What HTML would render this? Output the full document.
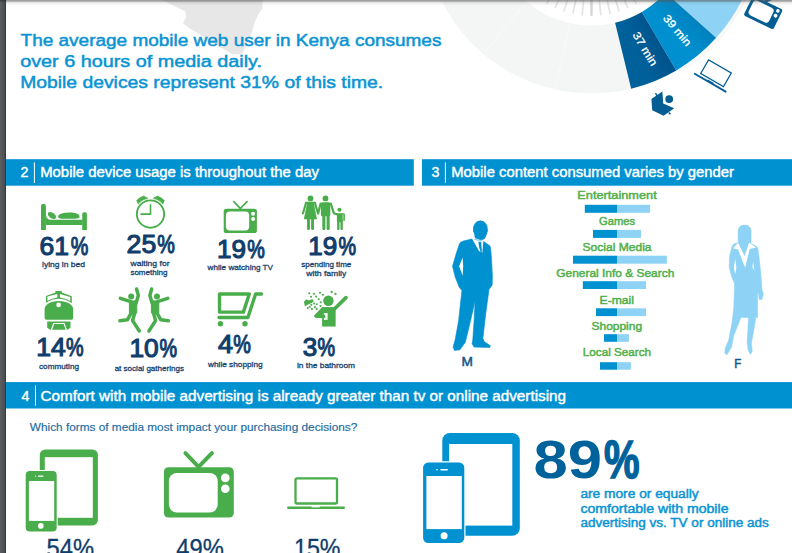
<!DOCTYPE html>
<html><head><meta charset="utf-8"><title>Kenya mobile media</title>
<style>
html,body{margin:0;padding:0;background:#fff;}
body{width:792px;height:553px;overflow:hidden;position:relative;font-family:"Liberation Sans",sans-serif;}
svg{position:absolute;left:0;top:0;display:block}
text{font-family:"Liberation Sans",sans-serif;}
.h{fill:#0a94d3;font-size:17.2px;stroke:#0a94d3;stroke-width:.5px}
.b{fill:#fff;font-size:14px;stroke:#fff;stroke-width:.4px}
.n{fill:#103d6b;font-size:25.4px;stroke:#103d6b;stroke-width:1.1px}
.l{fill:#15426f;font-size:8px;stroke:#15426f;stroke-width:.3px}
.g{fill:#53b04c;font-size:11.4px;stroke:#53b04c;stroke-width:.5px}
.q{fill:#1d6a9e;font-size:10.5px;stroke:#1d6a9e;stroke-width:.15px}
.r{fill:#103d6b;font-size:25.5px;stroke:#103d6b;stroke-width:.3px}
.c{fill:#0a94d3;font-size:12px;stroke:#0a94d3;stroke-width:.45px}
</style></head><body>
<svg width="792" height="553" viewBox="0 0 792 553">
<defs>
<linearGradient id="lb" x1="0" x2="1" y1="0" y2="0"><stop offset="0" stop-color="#5b5f61"/><stop offset=".75" stop-color="#4a4e50"/><stop offset="1" stop-color="#2c2f31"/></linearGradient>
<linearGradient id="ts" x1="0" x2="0" y1="0" y2="1"><stop offset="0" stop-color="#555" stop-opacity=".62"/><stop offset=".28" stop-color="#555" stop-opacity=".4"/><stop offset=".45" stop-color="#666" stop-opacity=".12"/><stop offset="1" stop-color="#888" stop-opacity="0"/></linearGradient>
</defs>
<path d="M162.3,0 L185.3,11.5 L186.3,17.2 L182.8,23 L190.2,28.7 L232.1,54.2 L242,54.2 L246.9,44.3 L251.8,32.8 L254.3,23 L258.4,14 L262.5,8.2 L262.5,0 Z" fill="#e7e7e7"/>
<circle cx="591.5" cy="-74.0" r="133.55" fill="none" stroke="#f4f6f6" stroke-width="67.9"/>
<line x1="569.94" y1="23.24" x2="555.25" y2="89.53" stroke="#fff" stroke-width="1" opacity=".55"/>
<line x1="527.08" y1="1.96" x2="483.16" y2="53.75" stroke="#fff" stroke-width="1" opacity=".55"/>
<line x1="500.16" y1="-34.28" x2="437.89" y2="-7.21" stroke="#fff" stroke-width="1" opacity=".55"/>
<path d="M678.80,71.29 A169.5,169.5 0 0 0 758.42,-44.57" fill="none" stroke="#efefef" stroke-width="4" opacity=".45"/>
<line x1="530.88" y1="-39.00" x2="513.73" y2="-29.10" stroke="#e4e4e4" stroke-width="1.7"/>
<line x1="534.87" y1="-32.86" x2="518.85" y2="-21.22" stroke="#e4e4e4" stroke-width="1.7"/>
<line x1="539.48" y1="-27.16" x2="524.77" y2="-13.91" stroke="#e4e4e4" stroke-width="1.7"/>
<line x1="544.66" y1="-21.98" x2="531.41" y2="-7.27" stroke="#e4e4e4" stroke-width="1.7"/>
<line x1="550.36" y1="-17.37" x2="538.72" y2="-1.35" stroke="#e4e4e4" stroke-width="1.7"/>
<line x1="556.50" y1="-13.38" x2="546.60" y2="3.77" stroke="#e4e4e4" stroke-width="1.7"/>
<line x1="563.03" y1="-10.05" x2="554.98" y2="8.04" stroke="#e4e4e4" stroke-width="1.7"/>
<line x1="569.87" y1="-7.43" x2="563.75" y2="11.40" stroke="#e4e4e4" stroke-width="1.7"/>
<line x1="576.95" y1="-5.53" x2="572.83" y2="13.84" stroke="#e4e4e4" stroke-width="1.7"/>
<line x1="584.18" y1="-4.38" x2="582.11" y2="15.31" stroke="#e4e4e4" stroke-width="1.7"/>
<line x1="591.50" y1="-4.00" x2="591.50" y2="15.80" stroke="#d4d4d4" stroke-width="2.4"/>
<line x1="598.82" y1="-4.38" x2="600.89" y2="15.31" stroke="#e4e4e4" stroke-width="1.7"/>
<line x1="606.05" y1="-5.53" x2="610.17" y2="13.84" stroke="#e4e4e4" stroke-width="1.7"/>
<line x1="613.13" y1="-7.43" x2="619.25" y2="11.40" stroke="#e4e4e4" stroke-width="1.7"/>
<line x1="619.97" y1="-10.05" x2="628.02" y2="8.04" stroke="#e4e4e4" stroke-width="1.7"/>
<line x1="626.50" y1="-13.38" x2="636.40" y2="3.77" stroke="#e4e4e4" stroke-width="1.7"/>
<line x1="632.64" y1="-17.37" x2="644.28" y2="-1.35" stroke="#e4e4e4" stroke-width="1.7"/>
<line x1="638.34" y1="-21.98" x2="651.59" y2="-7.27" stroke="#e4e4e4" stroke-width="1.7"/>
<line x1="643.52" y1="-27.16" x2="658.23" y2="-13.91" stroke="#e4e4e4" stroke-width="1.7"/>
<line x1="648.13" y1="-32.86" x2="664.15" y2="-21.22" stroke="#e4e4e4" stroke-width="1.7"/>
<line x1="652.12" y1="-39.00" x2="669.27" y2="-29.10" stroke="#e4e4e4" stroke-width="1.7"/>
<path d="M615.09,22.77 L631.17,88.73 A167.5,167.5 0 0 0 676.26,70.47 L641.90,11.91 A99.6,99.6 0 0 1 615.09,22.77 Z" fill="#00609a"/>
<path d="M641.90,11.91 L676.26,70.47 A167.5,167.5 0 0 0 716.17,37.86 L665.63,-7.48 A99.6,99.6 0 0 1 641.90,11.91 Z" fill="#0090cf"/>
<path d="M665.63,-7.48 L716.17,37.86 A167.5,167.5 0 0 0 756.46,-44.91 L689.59,-56.70 A99.6,99.6 0 0 1 665.63,-7.48 Z" fill="#8ed3f5"/>
<linearGradient id="sh1" gradientUnits="userSpaceOnUse" x1="635.9" y1="51.4" x2="658.8" y2="40.7"><stop offset="0" stop-color="#003" stop-opacity="0"/><stop offset="1" stop-color="#003" stop-opacity="0.13"/></linearGradient><path d="M624.75,19.89 L647.41,83.89 A167.5,167.5 0 0 0 676.26,70.47 L641.90,11.91 A99.6,99.6 0 0 1 624.75,19.89 Z" fill="url(#sh1)"/>
<linearGradient id="sh2" gradientUnits="userSpaceOnUse" x1="671.5" y1="32.2" x2="690.5" y2="14.8"><stop offset="0" stop-color="#003" stop-opacity="0"/><stop offset="1" stop-color="#003" stop-opacity="0.1"/></linearGradient><path d="M651.44,5.54 L692.30,59.77 A167.5,167.5 0 0 0 716.17,37.86 L665.63,-7.48 A99.6,99.6 0 0 1 651.44,5.54 Z" fill="url(#sh2)"/>
<text transform="translate(644.90,48.90) rotate(59)" text-anchor="middle" y="3.6" font-size="11" fill="#fff" stroke="#fff" stroke-width=".3" textLength="37.5" lengthAdjust="spacingAndGlyphs">37 min</text>
<text transform="translate(677.20,30.40) rotate(50)" text-anchor="middle" y="3.6" font-size="11" fill="#fff" stroke="#fff" stroke-width=".3" textLength="37" lengthAdjust="spacingAndGlyphs">39 min</text>
<g fill="#045e94">
<g transform="translate(743.5,15.3) rotate(26)">
<path d="M14,-22 L9,-29 M14,-22 L20,-29" stroke="#045e94" stroke-width="2" stroke-linecap="round" fill="none"/>
<rect x="0" y="-22.2" width="33" height="22.2" rx="2.2"/>
<rect x="2.9" y="-19.2" width="22.6" height="16.2" rx="3.5" fill="#fff"/>
<circle cx="29" cy="-19" r="1.8" fill="#fff"/><circle cx="29" cy="-13.7" r="1.9" fill="#fff"/>
</g>
<g transform="translate(694,73.3) rotate(30)">
<rect x="0" y="-0.9" width="37.5" height="1.9" rx=".9"/>
<rect x="5.9" y="-18.9" width="26.3" height="15.7" fill="none" stroke="#045e94" stroke-width="1.25"/>
<rect x="15" y="-1.6" width="7" height="1.2" fill="#045e94"/>
</g>
<path d="M651.4,99.1 L662.4,91.4 L663.2,103.6 L674.2,108.3 L663.6,115.8 L652.2,110.3 Z"/>
<circle cx="669.2" cy="99.1" r="3.9"/>
<path d="M655.5,93.2 L657.2,95.8 M668.7,112.4 L670.5,114.3" stroke="#045e94" stroke-width="1.5" fill="none"/>
</g>
<text class="h" x="20.6" y="46.4" textLength="420.8" lengthAdjust="spacingAndGlyphs">The average mobile web user in Kenya consumes</text>
<text class="h" x="20.2" y="67.3" textLength="241.8" lengthAdjust="spacingAndGlyphs">over 6 hours of media daily.</text>
<text class="h" x="20.2" y="88.2" textLength="363" lengthAdjust="spacingAndGlyphs">Mobile devices represent 31% of this time.</text>
<rect x="6" y="159.2" width="407.8" height="26.5" fill="#0091d1"/>
<rect x="422" y="159.2" width="370" height="26.5" fill="#0091d1"/>
<rect x="6" y="382.1" width="786" height="26.4" fill="#0091d1"/>
<rect x="33.9" y="162.4" width="1" height="20.6" fill="#fff"/>
<rect x="444.9" y="162.4" width="1" height="20.4" fill="#fff"/>
<rect x="35" y="385.5" width="1" height="20.2" fill="#fff"/>
<text class="b" x="20.4" y="176.7" textLength="7.9" lengthAdjust="spacingAndGlyphs">2</text>
<text class="b" x="40.2" y="176.6" textLength="278.8" lengthAdjust="spacingAndGlyphs">Mobile device usage is throughout the day</text>
<text class="b" x="431.4" y="176.7" textLength="7.9" lengthAdjust="spacingAndGlyphs">3</text>
<text class="b" x="451.2" y="176.6" textLength="282.8" lengthAdjust="spacingAndGlyphs">Mobile content consumed varies by gender</text>
<text class="b" x="21.4" y="400.8" textLength="7.9" lengthAdjust="spacingAndGlyphs">4</text>
<text class="b" x="40.6" y="400.7" textLength="525.4" lengthAdjust="spacingAndGlyphs">Comfort with mobile advertising is already greater than tv or online advertising</text>
<text class="q" x="29.8" y="430.5" textLength="327.5" lengthAdjust="spacingAndGlyphs">Which forms of media most impact your purchasing decisions?</text>
<g fill="#4aad4b">
<!-- bed -->
<path d="M41,229.9 L41,205.9 Q41,204.1 42.8,204.1 L44.1,204.1 Q45.9,204.1 45.9,205.9 L45.9,229.9 Q45.9,230 45.3,230 L41.6,230 Q41,230 41,229.9 Z"/>
<path d="M82.2,229.9 L82.2,214 Q82.2,212.2 84,212.2 L85.1,212.2 Q86.9,212.2 86.9,214 L86.9,229.9 Z"/>
<path d="M45.5,209 L45.9,214 Q46.3,219.8 50.5,219.8 L82.5,219.8 L82.5,225.1 L45.5,225.1 Z"/>
<ellipse cx="51.9" cy="215.5" rx="4.6" ry="2.6" transform="rotate(35 51.9 215.5)"/>
<path d="M58.1,216.6 C58.1,213.2 66,212.6 70,212.6 C75,212.6 79.5,214 79.5,216.6 C79.5,218.5 77,218.8 74,218.8 L62,218.8 C59.5,218.8 58.1,218 58.1,216.6 Z"/>
<!-- clock -->
<circle cx="150.5" cy="214.05" r="13.65" fill="none" stroke="#4aad4b" stroke-width="1.9"/>
<path d="M150.5,204.9 L150.5,214.1 L141,214.1" fill="none" stroke="#4aad4b" stroke-width="1.6" stroke-linecap="round" stroke-linejoin="round"/>
<path d="M138.14,204.05 A15.9,15.9 0 0 1 147.9,198.36 L143.6,196 A19.4,19.4 0 0 0 136.66,200.45 Z" stroke="#4aad4b" stroke-width=".6" stroke-linejoin="round"/>
<path d="M162.86,204.05 A15.9,15.9 0 0 0 153.1,198.36 L157.4,196 A19.4,19.4 0 0 1 164.34,200.45 Z" stroke="#4aad4b" stroke-width=".6" stroke-linejoin="round"/>
<!-- tv small -->
<path d="M233.9,201.6 L240.3,208.6 L247,201.6" fill="none" stroke="#4aad4b" stroke-width="1.7" stroke-linecap="round"/>
<rect x="223.7" y="208.7" width="33.2" height="24.3" rx="2.6"/>
<rect x="225.9" y="211.4" width="23.3" height="19" rx="4" fill="#fff"/>
<circle cx="253.1" cy="213.8" r="1.95" fill="#fff"/><circle cx="253.1" cy="219.05" r="1.95" fill="#fff"/>
<!-- family -->
<circle cx="310.5" cy="198.4" r="2.9"/>
<path d="M307.6,202.6 L313.4,202.6 L316.5,218.9 L304.3,218.9 Z" stroke="#4aad4b" stroke-width=".8" stroke-linejoin="round"/>
<rect x="304.9" y="201.7" width="11.2" height="2.6" rx="1.3"/>
<path d="M305.9,203.2 L302.9,213.5 M315.1,203.2 L318,213.5" stroke="#4aad4b" stroke-width="2.1" stroke-linecap="round" fill="none"/>
<rect x="307.05" y="218" width="2.9" height="12" rx="1.2"/><rect x="311.1" y="218" width="2.9" height="12" rx="1.2"/>
<circle cx="325.5" cy="198.4" r="2.9"/>
<rect x="320.9" y="202.2" width="9.4" height="14" rx="1.5"/>
<path d="M320.6,203.6 L318.2,213.4 M330.8,203.6 L333.8,213.2 L337,214.2" stroke="#4aad4b" stroke-width="2.2" stroke-linecap="round" stroke-linejoin="round" fill="none"/>
<rect x="322.3" y="212" width="3.1" height="18" rx="1.3"/><rect x="326.6" y="212" width="3.1" height="18" rx="1.3"/>
<circle cx="339.5" cy="209.8" r="2.05"/>
<rect x="336.9" y="213.2" width="5.8" height="9" rx=".8"/>
<path d="M341.5,213.2 L343.6,213.2 Q344.9,213.2 344.9,214.5 L344.9,220 Q344.9,220.9 344.1,220.9 Q343.3,220.9 343.3,220 L343.3,214.6 L341.5,214.6 Z"/>
<rect x="337.1" y="219" width="2.4" height="11" rx="1"/><rect x="340.4" y="219" width="2.4" height="11" rx="1"/>
<!-- train -->
<rect x="55.4" y="290.9" width="6.4" height="2.4" rx=".5"/>
<path d="M46,302.9 L46,295.9 L55.8,292.6 L61.7,292.6 L71.8,296.2 L71.8,303.1 Q58.7,294.6 46,302.9 Z"/>
<path d="M47.4,300.7 L47.4,296.6 L57.3,294 L57.3,297.6 Q52,298.3 47.4,300.7 Z M59.9,294 L70.3,296.9 L70.3,301 Q65.5,298.4 59.9,297.6 Z" fill="#fff"/>
<path d="M44.6,309 C44.6,305 50,301 58.8,300.9 C67.5,301 73.2,305 73.2,309 L73.2,318 Q73.2,319.8 71.4,319.8 L46.4,319.8 Q44.6,319.8 44.6,318 Z"/>
<circle cx="58.6" cy="304.9" r="2.35" fill="#fff"/>
<path d="M47.2,321.6 L70.5,321.6 L70.5,327.8 L67.5,329.7 L50.2,329.7 L47.2,327.8 Z"/>
<path d="M51.4,330 L53.7,323.5 L64.1,323.5 L66.4,330" fill="none" stroke="#fff" stroke-width="1.2"/>
<!-- jumping people -->
<g>
<circle cx="131.2" cy="296.6" r="3"/>
<path d="M129.4,301.9 L136.8,300.4 L136.8,312.8 L129.4,312.8 Z" stroke="#4aad4b" stroke-width="1" stroke-linejoin="round"/>
<path d="M132.4,302.2 L120.4,298.4 M136.1,302.9 L138.3,295.4 L136.6,289 M131.4,312.6 L127.4,319.8 L119.9,320.8 M134.9,312.6 L132.6,320.6 L139.3,331" fill="none" stroke="#4aad4b" stroke-width="3.5" stroke-linecap="round" stroke-linejoin="round"/>
</g>
<g transform="translate(288.2,0) scale(-1,1)">
<circle cx="131.2" cy="296.6" r="3"/>
<path d="M129.4,301.9 L136.8,300.4 L136.8,312.8 L129.4,312.8 Z" stroke="#4aad4b" stroke-width="1" stroke-linejoin="round"/>
<path d="M132.4,302.2 L120.4,298.4 M136.1,302.9 L138.3,295.4 L136.6,289 M131.4,312.6 L127.4,319.8 L119.9,320.8 M134.9,312.6 L132.6,320.6 L139.3,331" fill="none" stroke="#4aad4b" stroke-width="3.5" stroke-linecap="round" stroke-linejoin="round"/>
</g>
<!-- cart -->
<path d="M219.5,294 L249.3,294 L243.4,312.1 L219.5,312.1 Z" fill="none" stroke="#4aad4b" stroke-width="3.4" stroke-linejoin="round"/>
<path d="M261.5,294 L255.6,294 L247.9,317.5 L219,317.5" fill="none" stroke="#4aad4b" stroke-width="3.4" stroke-linejoin="round" stroke-linecap="round"/>
<circle cx="220.4" cy="323.7" r="2.7"/><circle cx="245" cy="323.7" r="2.7"/>
<!-- shower -->
<circle cx="328.4" cy="300.8" r="5.2"/>
<rect x="322.1" y="307.1" width="13.55" height="19.45"/>
<path d="M334.7,308.8 L346,297.6" stroke="#4aad4b" stroke-width="3.6" stroke-linecap="round" fill="none"/>
<path d="M323,308.6 L315.8,316.1 L323,316.6 Z" stroke="#4aad4b" stroke-width="3.4" stroke-linejoin="round"/>
<rect x="323.9" y="313" width="3.7" height="6.8" fill="#fff"/><path d="M323.5,314.7 L325,314.7 Q326.2,316.4 325,318.1 L323.5,318.1 Z"/>
<path d="M304.6,301.9 L306.4,300 L308.6,301 L312.4,299.9 L313,301.4 L307.4,304.2 L305.3,305.6 L305,304 Z" stroke="#4aad4b" stroke-width="1.1" stroke-linejoin="round"/>
<g>
<circle cx="309.3" cy="293.3" r="1.05"/><circle cx="314" cy="293.8" r="1.05"/><circle cx="320" cy="292.7" r="1.05"/><circle cx="323" cy="294.8" r="1.05"/><circle cx="331.6" cy="292" r="1.15"/><circle cx="335.5" cy="293.9" r="1.15"/>
<circle cx="311.1" cy="296.7" r="1.05"/><circle cx="316.2" cy="296.6" r="1.05"/><circle cx="318.7" cy="299.3" r="1.05"/><circle cx="320.7" cy="302.2" r="1.05"/><circle cx="316.7" cy="304.2" r="1.05"/><circle cx="320.5" cy="306" r="1.05"/>
<circle cx="314" cy="303.5" r="1.05"/><circle cx="311.3" cy="304.7" r="1.05"/><circle cx="309.7" cy="306.7" r="1.05"/><circle cx="307.8" cy="308" r="1.05"/><circle cx="311.9" cy="309.1" r="1.05"/><circle cx="315" cy="307.1" r="1.05"/><circle cx="316.7" cy="308.9" r="1.05"/>
</g>
</g>
<text class="n" x="39.5" y="254.7" textLength="29.5" lengthAdjust="spacingAndGlyphs">61</text><text class="n" x="70.8" y="254.7" textLength="17.6" lengthAdjust="spacingAndGlyphs">%</text>
<text class="n" x="126.6" y="252.7" textLength="29.6" lengthAdjust="spacingAndGlyphs">25</text><text class="n" x="157.3" y="252.7" textLength="17.6" lengthAdjust="spacingAndGlyphs">%</text>
<text class="n" x="217" y="257.6" textLength="29" lengthAdjust="spacingAndGlyphs">19</text><text class="n" x="247.3" y="257.6" textLength="17.6" lengthAdjust="spacingAndGlyphs">%</text>
<text class="n" x="308.3" y="254.7" textLength="29" lengthAdjust="spacingAndGlyphs">19</text><text class="n" x="338.5" y="254.7" textLength="17.6" lengthAdjust="spacingAndGlyphs">%</text>
<text class="n" x="36.2" y="355.7" textLength="29.5" lengthAdjust="spacingAndGlyphs">14</text><text class="n" x="66" y="355.7" textLength="17.6" lengthAdjust="spacingAndGlyphs">%</text>
<text class="n" x="129.4" y="356.9" textLength="29.3" lengthAdjust="spacingAndGlyphs">10</text><text class="n" x="159.4" y="356.9" textLength="17.6" lengthAdjust="spacingAndGlyphs">%</text>
<text class="n" x="217.9" y="352.7" textLength="15" lengthAdjust="spacingAndGlyphs">4</text><text class="n" x="233.3" y="352.7" textLength="17.6" lengthAdjust="spacingAndGlyphs">%</text>
<text class="n" x="302.8" y="355.7" textLength="14.5" lengthAdjust="spacingAndGlyphs">3</text><text class="n" x="317.6" y="355.7" textLength="17.6" lengthAdjust="spacingAndGlyphs">%</text>
<text class="l" x="63.5" y="267" text-anchor="middle" textLength="43" lengthAdjust="spacingAndGlyphs">lying in bed</text>
<text class="l" x="150" y="266" text-anchor="middle" textLength="39" lengthAdjust="spacingAndGlyphs">waiting for</text>
<text class="l" x="148.9" y="275.2" text-anchor="middle" textLength="37" lengthAdjust="spacingAndGlyphs">something</text>
<text class="l" x="240.3" y="270.1" text-anchor="middle" textLength="65.4" lengthAdjust="spacingAndGlyphs">while watching TV</text>
<text class="l" x="326.3" y="266.5" text-anchor="middle" textLength="50" lengthAdjust="spacingAndGlyphs">spending time</text>
<text class="l" x="326.3" y="276.2" text-anchor="middle" textLength="40" lengthAdjust="spacingAndGlyphs">with family</text>
<text class="l" x="59" y="368.8" text-anchor="middle" textLength="40" lengthAdjust="spacingAndGlyphs">commuting</text>
<text class="l" x="149.3" y="371.4" text-anchor="middle" textLength="69.3" lengthAdjust="spacingAndGlyphs">at social gatherings</text>
<text class="l" x="235.3" y="366.5" text-anchor="middle" textLength="54.6" lengthAdjust="spacingAndGlyphs">while shopping</text>
<text class="l" x="326" y="367.8" text-anchor="middle" textLength="58" lengthAdjust="spacingAndGlyphs">in the bathroom</text>
<!-- man -->
<g fill="#0091d1" stroke="#0091d1" stroke-width=".6" stroke-linejoin="round">
<ellipse cx="480.4" cy="229" rx="7.3" ry="8.4" stroke="none"/>
<path d="M473.3,230 L474.6,234 L475.2,238 L481.5,240 L484.7,238.4 L486.6,234 L487.6,230 Z"/>
<path d="M471.4,239.1 L463.5,241 Q460.5,241.6 459.6,243.5 L456.5,252.6 L452.5,266.2 L455.2,277 L459.2,287.2 L461.9,290.4 L458.6,320.7 L455.2,339.6 L453.1,347.1 L454.5,350.5 L459.9,349.8 L465.3,342.3 L468,331.5 L475.1,301 L474.1,320.7 L472.8,339.6 L472.1,343.7 L474.1,347.1 L489.7,347.5 L490.4,345.7 L484.3,341.7 L482.9,338.3 L485.7,313.9 L489,289.5 L492.2,285.1 L492.4,275.7 L491.7,262.1 L490.6,247.5 Q490.2,245.6 488,244.6 L482.9,241.1 Z"/>
</g>
<path d="M471.8,238.2 L476.5,240.3 L483.4,240.7 L482.3,253 L479,251.1 Z" fill="#fff"/>
<path d="M478.4,241.8 L481.2,241.8 L482,253.6 L480.3,251.3 L479,246.6 Z" fill="#0091d1"/>
<path d="M462.6,257.4 L459.2,266.2 L462.6,275.7 L463.2,266.2 Z" fill="#fff"/>
<text x="461.6" y="365.6" font-size="12.6" fill="#14568a" stroke="#14568a" stroke-width=".5" textLength="11.4" lengthAdjust="spacingAndGlyphs">M</text>
<!-- woman -->
<g fill="#8ed3f5" stroke="#8ed3f5" stroke-width=".5" stroke-linejoin="round">
<path d="M738.1,243 L738.1,231.5 C738.1,227 741,225.1 744.6,225.1 C748.2,225.1 751.1,227 751.1,231.5 L751.1,243 Z"/>
<path d="M738.1,242.8 L734.3,243.8 Q732.6,244.3 732.2,246 L729.5,256.1 L729.2,267.7 L731.6,276.4 L734.5,283.6 L734.5,285 L733.8,306.7 L732.3,321.1 L728.7,339.9 L725.1,348.6 L724.8,352.9 L726.8,355.1 L731.6,347.1 L733.8,335.6 L741,317.5 L748.5,317.5 L747.9,328.4 L747.1,342.8 L748.2,350 L750.4,354.4 L752.3,351.5 L751.4,342.8 L753.7,331.2 L755.8,317.5 L757.6,317.5 L757.6,293 L758.6,293.7 L759.1,299.5 L762,299.5 L763.4,293.7 L762,289.4 L761.2,277.8 L759.8,263.4 L757.9,248.4 Q757.5,246.6 755.6,245.8 L749,242.8 Z"/>
</g>
<path d="M733.1,248.2 L738.1,242.8 L744.6,256.1 L749,242.8 L756.2,247.5 L749.7,248.9 L745.1,267.7 L738.1,249.6 Z" fill="#fff"/>
<path d="M735.2,259 L733.8,267.7 L735.2,274.2 L736.4,267.7 Z M753.3,261.9 L752.3,267 L754.3,270.6 Z" fill="#fff"/>
<text x="734.2" y="367.6" font-size="12.6" fill="#14568a" stroke="#14568a" stroke-width=".5" textLength="7" lengthAdjust="spacingAndGlyphs">F</text>
<!-- bars -->
<g fill="#0091d1">
<rect x="584.8" y="204.8" width="32.2" height="8"/><rect x="593" y="229.9" width="24" height="8"/><rect x="573" y="255.7" width="44" height="8"/><rect x="582.8" y="281.2" width="34.2" height="7.8"/><rect x="596" y="308.3" width="21" height="7.8"/><rect x="604" y="334.2" width="13" height="7.6"/><rect x="600" y="362.2" width="17" height="7.5"/>
</g>
<g fill="#8ed3f5">
<rect x="617" y="204.8" width="33.1" height="8"/><rect x="617" y="229.9" width="24" height="8"/><rect x="617" y="255.7" width="49.9" height="8"/><rect x="617" y="281.2" width="29" height="7.8"/><rect x="617" y="308.3" width="29" height="7.8"/><rect x="617" y="334.2" width="11.9" height="7.6"/><rect x="617" y="362.2" width="13.9" height="7.5"/>
</g>
<text class="g" x="617" y="199.1" text-anchor="middle" textLength="79.4" lengthAdjust="spacingAndGlyphs">Entertainment</text>
<text class="g" x="617" y="225" text-anchor="middle" textLength="36" lengthAdjust="spacingAndGlyphs">Games</text>
<text class="g" x="617" y="251.3" text-anchor="middle" textLength="69.1" lengthAdjust="spacingAndGlyphs">Social Media</text>
<text class="g" x="615.3" y="277" text-anchor="middle" textLength="118.1" lengthAdjust="spacingAndGlyphs">General Info &amp; Search</text>
<text class="g" x="616.8" y="304.3" text-anchor="middle" textLength="34.4" lengthAdjust="spacingAndGlyphs">E-mail</text>
<text class="g" x="616.8" y="330" text-anchor="middle" textLength="50.5" lengthAdjust="spacingAndGlyphs">Shopping</text>
<text class="g" x="616.9" y="356.2" text-anchor="middle" textLength="68.2" lengthAdjust="spacingAndGlyphs">Local Search</text>
<g fill="#4aad4b">
<!-- tablet+phone green -->
<rect x="39.8" y="449.4" width="58.1" height="76" rx="5.5"/>
<rect x="44.8" y="457.2" width="48" height="60.6" fill="#fff"/>
<rect x="24.7" y="469.9" width="33" height="62.6" rx="5" fill="#fff"/>
<rect x="25.7" y="470.9" width="31" height="60.6" rx="4"/>
<rect x="28.9" y="481" width="25.3" height="39.9" fill="#fff"/>
<circle cx="40.8" cy="525.9" r="2.8" fill="#fff"/>
<rect x="38" y="475.6" width="5.4" height="1.1" rx=".5" fill="#fff"/><circle cx="35.6" cy="476.1" r=".6" fill="#fff"/>
<!-- tv big -->
<path d="M185.4,453.2 L198.6,466.8 L211.9,453.2" fill="none" stroke="#4aad4b" stroke-width="4" stroke-linecap="round"/>
<rect x="163.9" y="467.3" width="69.9" height="50.3" rx="4.5"/>
<rect x="168.9" y="472.9" width="48.8" height="39.6" rx="8" fill="#fff"/>
<circle cx="225.3" cy="477.9" r="4.3" fill="#fff"/><circle cx="225.3" cy="488.8" r="4.3" fill="#fff"/>
<!-- laptop -->
<rect x="295.5" y="478.3" width="41.5" height="25.2" rx="1.5" fill="none" stroke="#4aad4b" stroke-width="2.3"/>
<rect x="287.1" y="506.4" width="57.9" height="2.7" rx="1.3"/>
<rect x="311.6" y="506.1" width="8.1" height="1.3" fill="#fff"/>
</g>
<text class="r" x="46.5" y="557" textLength="47.5" lengthAdjust="spacingAndGlyphs">54%</text>
<text class="r" x="176.3" y="557" textLength="47.5" lengthAdjust="spacingAndGlyphs">49%</text>
<text class="r" x="294" y="557" textLength="46.5" lengthAdjust="spacingAndGlyphs">15%</text>
<g fill="#0091d1">
<rect x="442.3" y="433.1" width="77.5" height="102.6" rx="7.5"/>
<rect x="449.1" y="444" width="63.2" height="81.6" fill="#fff"/>
<rect x="421.9" y="461.2" width="43.6" height="83" rx="6.4" fill="#fff"/>
<rect x="423.1" y="462.4" width="41.2" height="80.6" rx="5.2"/>
<rect x="426.4" y="476" width="35.4" height="53.1" fill="#fff"/>
<circle cx="444.1" cy="535.7" r="3.5" fill="#fff"/>
<rect x="440.3" y="469" width="7.6" height="1.4" rx=".7" fill="#fff"/><circle cx="437" cy="469.7" r=".8" fill="#fff"/>
</g>
<text x="533.4" y="477.7" font-size="53.5" font-weight="bold" fill="#00629b" textLength="68.5" lengthAdjust="spacingAndGlyphs">89</text><text x="604" y="477.7" font-size="53.5" font-weight="bold" fill="#00629b" stroke="#00629b" stroke-width="1.5" textLength="35.6" lengthAdjust="spacingAndGlyphs">%</text>
<text class="c" x="580.4" y="498.4" textLength="118.3" lengthAdjust="spacingAndGlyphs">are more or equally</text>
<text class="c" x="580.4" y="512.7" textLength="148.1" lengthAdjust="spacingAndGlyphs">comfortable with mobile</text>
<text class="c" x="580.4" y="526.9" textLength="188.4" lengthAdjust="spacingAndGlyphs">advertising vs. TV or online ads</text>
<rect x="0" y="0" width="792" height="6" fill="url(#ts)"/>
<rect x="0" y="0" width="6" height="553" fill="url(#lb)"/>
<rect x="0" y="0" width="6" height="1.6" fill="#222" opacity=".45"/>
</svg>
</body></html>
